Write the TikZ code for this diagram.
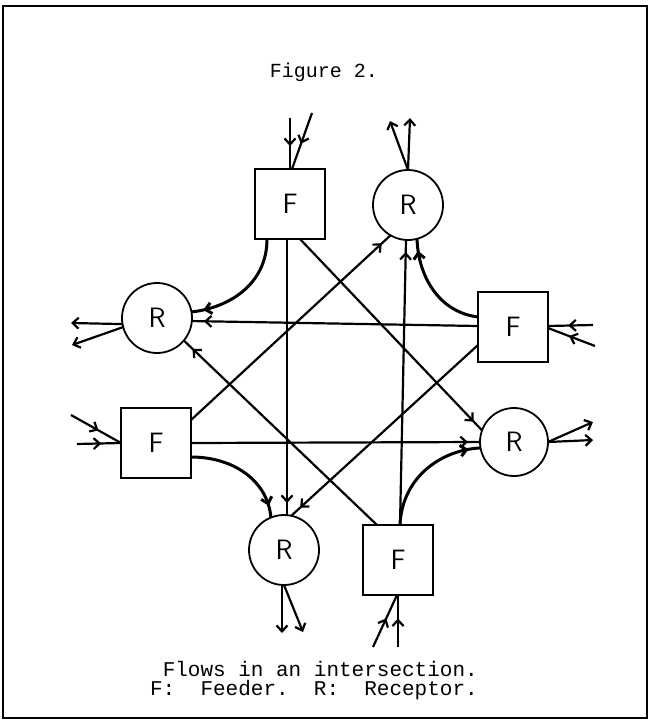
\documentclass[tikz,border=0pt]{standalone}
\usepackage{fontspec}
\newfontfamily\tw{Liberation Mono}
\usetikzlibrary{arrows.meta,decorations.markings}
\begin{document}
\begin{tikzpicture}[x=1pt,y=-1pt,
  barb/.tip={Straight Barb[length=6pt,width=11pt]},
  feeder/.style={draw,line width=1.8pt,minimum width=70pt,minimum height=70pt,inner sep=0pt,outer sep=0pt,font=\sffamily\fontsize{28}{30}\selectfont},
  recep/.style={draw,circle,line width=1.8pt,minimum size=70pt,inner sep=0pt,outer sep=0pt,font=\sffamily\fontsize{28}{30}\selectfont},
  flow/.style={line width=2.2pt,postaction={decorate},decoration={markings,mark=at position -12pt with {\arrow{barb}}}},
  turn/.style={flow,line width=3pt},
  inflow/.style={line width=2.2pt,postaction={decorate},decoration={markings,mark=at position 0.55 with {\arrow{barb}}}},
  outflow/.style={line width=2.2pt,-{barb}},
  caption/.style={inner sep=0pt,text height=13pt,text depth=3pt,font=\tw\fontsize{21}{23}\selectfont}
]
\useasboundingbox (0,0) rectangle (650,721);
\draw[line width=2pt] (3,6) rectangle (647,718);

\node[caption,font=\tw\fontsize{20}{22}\selectfont,anchor=base] (title) at (324,77) {Figure 2.};
\node[caption,anchor=base east] (cap1) at (478,676) {Flows in an intersection.};
\node[caption,anchor=base east] (cap2) at (478,695) {F:\ \ Feeder.\ \ R:\ \ Receptor.};

% nodes
\node[feeder] (F1) at (290,204) {F};
\node[recep]  (R1) at (408,205) {R};
\node[feeder] (F2) at (513,327) {F};
\node[recep,minimum size=68pt] (R2) at (514,442) {R};
\node[feeder] (F3) at (398,560) {F};
\node[recep]  (R3) at (284,550) {R};
\node[feeder] (F4) at (156,443) {F};
\node[recep]  (R4) at (157,318) {R};

% free ends
\coordinate (f1a) at (290,118);
\coordinate (f1b) at (312,113);
\coordinate (r1a) at (410,118);
\coordinate (r1b) at (390,121);
\coordinate (f2a) at (593,325);
\coordinate (f2b) at (595,346);
\coordinate (r2a) at (593,440);
\coordinate (r2b) at (593,422);
\coordinate (f3a) at (398,647);
\coordinate (f3b) at (373,647);
\coordinate (r3a) at (282,633);
\coordinate (r3b) at (303,632);
\coordinate (f4a) at (77,444);
\coordinate (f4b) at (71,415);
\coordinate (r4a) at (71,323);
\coordinate (r4b) at (72,345);

% straight flows
\draw[flow] ([xshift=-3pt]F1.south) -- ([xshift=3pt]R3.north);
\draw[flow] ([xshift=10pt]F1.south) -- (R2.160);
\draw[flow] ([yshift=1pt]F2.west) -- (R4.-5);
\draw[flow] ([yshift=-18pt]F2.west) -- (R3.78);
\draw[flow] ([xshift=2pt]F3.north) -- ([xshift=-2pt]R1.south);
\draw[flow] ([xshift=-21pt]F3.north) -- (R4.-40);
\draw[flow] (F4.east) -- (R2.west);
\draw[flow] ([yshift=23pt]F4.east) -- (R1.-120);

% turning flows
\draw[turn] ([xshift=-23pt]F1.south) .. controls (267,285) and (228,308) .. (R4.10);
\draw[turn] ([yshift=10pt]F2.west) .. controls (438,312) and (418,275) .. (R1.-75);
\draw[turn] ([xshift=2pt]F3.north) .. controls (402,478) and (440,450) .. (R2.190);
\draw[turn] ([yshift=-14pt]F4.east) .. controls (235,457) and (268,482) .. (R3.112);

% inflows
\draw[inflow] (f1a) -- (F1.north);
\draw[inflow] (f1b) -- ([xshift=2pt]F1.north);
\draw[inflow] (f2a) -- ([yshift=1pt]F2.east);
\draw[inflow] (f2b) -- ([yshift=-1pt]F2.east);
\draw[inflow] (f3a) -- (F3.south);
\draw[inflow] (f3b) -- ([xshift=-1pt]F3.south);
\draw[inflow] (f4a) -- (F4.west);
\draw[inflow] (f4b) -- (F4.west);

% outflows
\draw[outflow] (R1.north) -- (r1a);
\draw[outflow] (R1.north) -- (r1b);
\draw[outflow] (R2.east) -- (r2a);
\draw[outflow] (R2.east) -- (r2b);
\draw[outflow] ([xshift=-2pt]R3.south) -- (r3a);
\draw[outflow] (R3.south) -- (r3b);
\draw[outflow] (R4.190) -- (r4a);
\draw[outflow] (R4.195) -- (r4b);
\end{tikzpicture}
\end{document}
